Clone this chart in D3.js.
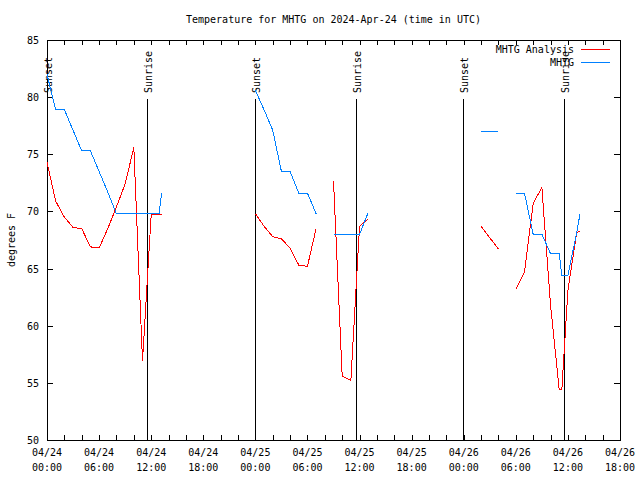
<!DOCTYPE html>
<html><head><meta charset="utf-8">
<script src="https://cdn.jsdelivr.net/npm/d3@7"></script>
<style>
body{margin:0;background:#fff;}
text{font-family:"DejaVu Sans Mono",monospace;font-size:10px;fill:#000;}
</style></head>
<body><svg id="c" width="640" height="480"></svg>
<script>
// hours since 2024-04-24 00:00 UTC
const analysisHours = [0,1,2,3,4,5,6,7,8,9,10,11,12,13.2,null,
  24,25,26,27,28,29,30,31,null,
  33,34,35,36,36.4,37,null,
  50,51,52,null,
  54,55,56,57,58,59,59.3,60,61,61.4];
const analysisTemps = [74.3,70.9,69.5,68.6,68.5,66.9,66.8,68.5,70.4,72.4,75.6,56.9,69.7,69.7,null,
  69.8,68.7,67.8,67.6,66.8,65.3,65.2,68.5,null,
  72.7,55.6,55.2,68.7,69.0,69.3,null,
  68.7,67.7,66.7,null,
  63.2,64.7,70.7,72.1,61.8,54.4,54.4,63.1,68.1,68.3];
const obsHours = [0,1,2,3,4,5,6,7,8,9,10,11,12.9,13.2,null,
  24,25,26,27,28,29,30,31,null,
  33,34,35,36,37,null,
  50,51,52,null,
  54,55,56,57,58,59,59.3,60,61,61.4];
const obsTemps = [82.0,78.9,78.9,77.1,75.3,75.3,73.5,71.7,69.8,69.8,69.8,69.8,69.8,71.6,null,
  80.6,78.9,77.1,73.5,73.5,71.6,71.6,69.8,null,
  68.0,68.0,68.0,68.0,69.9,null,
  77.0,77.0,77.0,null,
  71.6,71.6,68.0,68.0,66.3,66.3,64.4,64.4,68.1,69.8];
const sunsetHours = [0, 23.95, 47.95];
const sunriseHours = [11.55, 35.55, 59.55];
const yTicks = [50,55,60,65,70,75,80,85];
const seriesNames = ["MHTG Analysis","MHTG"];
const seriesColors = ["#ff0000","#0080ff"];
const titleText = "Temperature for MHTG on 2024-Apr-24 (time in UTC)";
const yLabel = "degrees F";

const t0 = Date.UTC(2024,3,24,0,0);
const toDate = h => new Date(t0 + h*3600e3);

const svg = d3.select("#c");
const L=47, R=620, T=40, B=440;
const x = d3.scaleUtc().domain([toDate(0), toDate(66)]).range([L,R]);
const y = d3.scaleLinear().domain([50,85]).range([B,T]);

// title
svg.append("text").attr("x",(L+R)/2).attr("y",23).attr("text-anchor","middle").text(titleText);
// y label
svg.append("text").attr("transform",`translate(15,${(T+B)/2}) rotate(-90)`).attr("text-anchor","middle").text(yLabel);

const g = svg.append("g").attr("shape-rendering","crispEdges");
// border
g.append("rect").attr("x",L+0.5).attr("y",T+0.5).attr("width",R-L).attr("height",B-T)
  .attr("fill","none").attr("stroke","#000");

// y ticks
yTicks.forEach(v=>{
  const yy = Math.round(y(v))+0.5;
  g.append("line").attr("x1",L).attr("x2",L+6).attr("y1",yy).attr("y2",yy).attr("stroke","#000");
  g.append("line").attr("x1",R-6).attr("x2",R).attr("y1",yy).attr("y2",yy).attr("stroke","#000");
  svg.append("text").attr("x",39).attr("y",yy).attr("dy","0.35em").attr("text-anchor","end").text(v);
});

// x ticks every 2h, labels every 6h
const xt = d3.utcHour.every(2).range(toDate(0), toDate(66.01));
xt.forEach(d=>{
  const xx = Math.round(x(d))+0.5;
  g.append("line").attr("x1",xx).attr("x2",xx).attr("y1",B).attr("y2",B-5).attr("stroke","#000");
  g.append("line").attr("x1",xx).attr("x2",xx).attr("y1",T).attr("y2",T+5).attr("stroke","#000");
});
const fD = d3.utcFormat("%m/%d"), fT = d3.utcFormat("%H:%M");
d3.utcHour.every(6).range(toDate(0), toDate(66.01)).forEach(d=>{
  const xx = x(d);
  svg.append("text").attr("x",xx).attr("y",456).attr("text-anchor","middle").text(fD(d));
  svg.append("text").attr("x",xx).attr("y",471).attr("text-anchor","middle").text(fT(d));
});

// sunset / sunrise markers
const markTop = T + (B-T)*0.1475;
function marker(h,label){
  const xx = Math.round(x(toDate(h)))+0.5;
  g.append("line").attr("x1",xx).attr("x2",xx).attr("y1",markTop).attr("y2",B).attr("stroke","#000");
  svg.append("text").attr("transform",`translate(${xx+4},${markTop-6}) rotate(-90)`).text(label);
}
sunsetHours.forEach(h=>marker(h,"Sunset"));
sunriseHours.forEach(h=>marker(h,"Sunrise"));

// series
function series(hours,temps,color){
  const pts = hours.map((h,i)=>({h, v:temps[i]}));
  const line = d3.line().defined(d=>d.h!=null && d.v!=null)
    .x(d=>x(toDate(d.h))).y(d=>y(d.v));
  svg.append("path").attr("d",line(pts)).attr("fill","none").attr("stroke",color)
    .attr("stroke-width",1).attr("shape-rendering","crispEdges");
}
series(analysisHours,analysisTemps,seriesColors[0]);
series(obsHours,obsTemps,seriesColors[1]);

// legend
seriesNames.forEach((n,i)=>{
  const yy = 49.5 + i*13;
  svg.append("text").attr("x",574).attr("y",yy).attr("dy","0.35em").attr("text-anchor","end").text(n);
  svg.append("line").attr("x1",581).attr("x2",610).attr("y1",yy).attr("y2",yy)
    .attr("stroke",seriesColors[i]).attr("stroke-width",1).attr("shape-rendering","crispEdges");
});
</script></body></html>
